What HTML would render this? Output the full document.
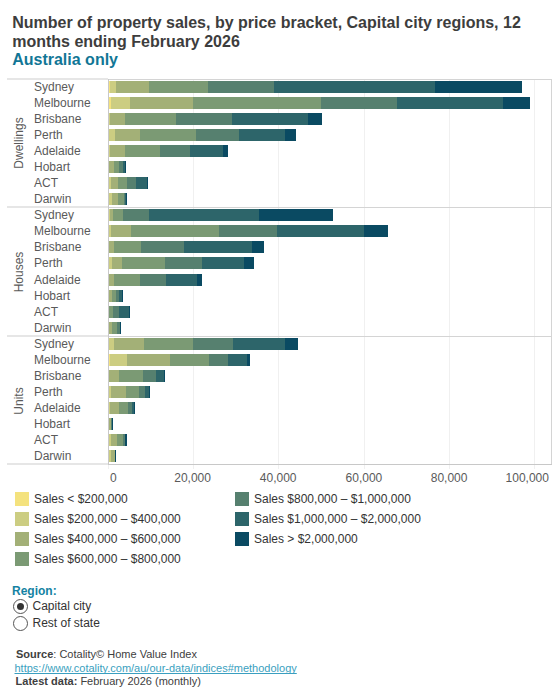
<!DOCTYPE html>
<html><head><meta charset="utf-8"><style>
html,body{margin:0;padding:0;background:#fff;}
body{width:560px;height:700px;position:relative;overflow:hidden;font-family:"Liberation Sans",sans-serif;}
.a{position:absolute;white-space:nowrap;}
.t{font-size:16px;line-height:18px;font-weight:bold;color:#3d3d3d;}
.lbl{font-size:12px;line-height:14px;color:#5a5a5a;}
.b{position:absolute;height:12px;}
.ln{position:absolute;}
</style></head><body>

<div class="a t" style="left:12.2px;top:14.2px">Number of property sales, by price bracket, Capital city regions, 12</div>
<div class="a t" style="left:12.2px;top:32.6px">months ending February 2026</div>
<div class="a t" style="left:12.2px;top:51.4px;color:#117696">Australia only</div>
<div class="ln" style="left:7px;top:78px;width:101px;height:2px;background:#e6e6e6"></div>
<div class="ln" style="left:7px;top:206px;width:101px;height:2px;background:#e6e6e6"></div>
<div class="ln" style="left:7px;top:335px;width:101px;height:2px;background:#e6e6e6"></div>
<div class="ln" style="left:7px;top:463px;width:101px;height:2px;background:#e6e6e6"></div>
<div class="ln" style="left:193px;top:80px;width:1px;height:389px;background:#f0f0f0"></div>
<div class="ln" style="left:278px;top:80px;width:1px;height:389px;background:#f0f0f0"></div>
<div class="ln" style="left:364px;top:80px;width:1px;height:389px;background:#f0f0f0"></div>
<div class="ln" style="left:449px;top:80px;width:1px;height:389px;background:#f0f0f0"></div>
<div class="ln" style="left:534px;top:80px;width:1px;height:389px;background:#f0f0f0"></div>
<div class="ln" style="left:108px;top:465px;width:1px;height:4px;background:#f0f0f0"></div>
<div class="ln" style="left:108px;top:79px;width:444px;height:1px;background:#d4d4d4"></div>
<div class="ln" style="left:108px;top:207px;width:444px;height:1px;background:#d4d4d4"></div>
<div class="ln" style="left:108px;top:336px;width:444px;height:1px;background:#d4d4d4"></div>
<div class="ln" style="left:551px;top:79px;width:1px;height:386px;background:#d4d4d4"></div>
<div class="ln" style="left:108px;top:79px;width:1px;height:386px;background:#c8c8c8"></div>
<div class="ln" style="left:108px;top:464px;width:444px;height:1px;background:#c8c8c8"></div>
<div class="a lbl" style="left:18.6px;top:142.5px;transform:translate(-50%,-50%) rotate(-90deg)">Dwellings</div>
<div class="a lbl" style="left:18.6px;top:271.5px;transform:translate(-50%,-50%) rotate(-90deg)">Houses</div>
<div class="a lbl" style="left:18.6px;top:400.5px;transform:translate(-50%,-50%) rotate(-90deg)">Units</div>
<div class="a lbl" style="left:34px;top:79.59px">Sydney</div>
<div class="b" style="left:109px;top:81px;width:1px;background:#f4e27e"></div>
<div class="b" style="left:110px;top:81px;width:6px;background:#cccd82"></div>
<div class="b" style="left:116px;top:81px;width:33px;background:#a3b077"></div>
<div class="b" style="left:149px;top:81px;width:59px;background:#7b9a74"></div>
<div class="b" style="left:208px;top:81px;width:66px;background:#56806f"></div>
<div class="b" style="left:274px;top:81px;width:161px;background:#2d656a"></div>
<div class="b" style="left:435px;top:81px;width:87px;background:#0a4a62"></div>
<div class="a lbl" style="left:34px;top:95.59px">Melbourne</div>
<div class="b" style="left:109px;top:97px;width:2px;background:#f4e27e"></div>
<div class="b" style="left:111px;top:97px;width:19px;background:#cccd82"></div>
<div class="b" style="left:130px;top:97px;width:63px;background:#a3b077"></div>
<div class="b" style="left:193px;top:97px;width:128px;background:#7b9a74"></div>
<div class="b" style="left:321px;top:97px;width:76px;background:#56806f"></div>
<div class="b" style="left:397px;top:97px;width:106px;background:#2d656a"></div>
<div class="b" style="left:503px;top:97px;width:27px;background:#0a4a62"></div>
<div class="a lbl" style="left:34px;top:111.59px">Brisbane</div>
<div class="b" style="left:109px;top:113px;width:1px;background:#cccd82"></div>
<div class="b" style="left:110px;top:113px;width:15px;background:#a3b077"></div>
<div class="b" style="left:125px;top:113px;width:51px;background:#7b9a74"></div>
<div class="b" style="left:176px;top:113px;width:56px;background:#56806f"></div>
<div class="b" style="left:232px;top:113px;width:76px;background:#2d656a"></div>
<div class="b" style="left:308px;top:113px;width:14px;background:#0a4a62"></div>
<div class="a lbl" style="left:34px;top:127.59px">Perth</div>
<div class="b" style="left:109px;top:129px;width:6px;background:#cccd82"></div>
<div class="b" style="left:115px;top:129px;width:25px;background:#a3b077"></div>
<div class="b" style="left:140px;top:129px;width:56px;background:#7b9a74"></div>
<div class="b" style="left:196px;top:129px;width:43px;background:#56806f"></div>
<div class="b" style="left:239px;top:129px;width:46px;background:#2d656a"></div>
<div class="b" style="left:285px;top:129px;width:11px;background:#0a4a62"></div>
<div class="a lbl" style="left:34px;top:143.59px">Adelaide</div>
<div class="b" style="left:109px;top:145px;width:1px;background:#cccd82"></div>
<div class="b" style="left:110px;top:145px;width:15px;background:#a3b077"></div>
<div class="b" style="left:125px;top:145px;width:35px;background:#7b9a74"></div>
<div class="b" style="left:160px;top:145px;width:30px;background:#56806f"></div>
<div class="b" style="left:190px;top:145px;width:33px;background:#2d656a"></div>
<div class="b" style="left:223px;top:145px;width:5px;background:#0a4a62"></div>
<div class="a lbl" style="left:34px;top:159.59px">Hobart</div>
<div class="b" style="left:109px;top:161px;width:5px;background:#a3b077"></div>
<div class="b" style="left:114px;top:161px;width:5px;background:#7b9a74"></div>
<div class="b" style="left:119px;top:161px;width:4px;background:#56806f"></div>
<div class="b" style="left:123px;top:161px;width:2px;background:#2d656a"></div>
<div class="b" style="left:125px;top:161px;width:1px;background:#0a4a62"></div>
<div class="a lbl" style="left:34px;top:175.59px">ACT</div>
<div class="b" style="left:109px;top:177px;width:2px;background:#cccd82"></div>
<div class="b" style="left:111px;top:177px;width:7px;background:#a3b077"></div>
<div class="b" style="left:118px;top:177px;width:9px;background:#7b9a74"></div>
<div class="b" style="left:127px;top:177px;width:9px;background:#56806f"></div>
<div class="b" style="left:136px;top:177px;width:11px;background:#2d656a"></div>
<div class="b" style="left:147px;top:177px;width:1px;background:#0a4a62"></div>
<div class="a lbl" style="left:34px;top:191.59px">Darwin</div>
<div class="b" style="left:109px;top:193px;width:3px;background:#cccd82"></div>
<div class="b" style="left:112px;top:193px;width:6px;background:#a3b077"></div>
<div class="b" style="left:118px;top:193px;width:6px;background:#7b9a74"></div>
<div class="b" style="left:124px;top:193px;width:1px;background:#56806f"></div>
<div class="b" style="left:125px;top:193px;width:1px;background:#2d656a"></div>
<div class="b" style="left:126px;top:193px;width:1px;background:#0a4a62"></div>
<div class="a lbl" style="left:34px;top:207.59px">Sydney</div>
<div class="b" style="left:109px;top:209px;width:1px;background:#cccd82"></div>
<div class="b" style="left:110px;top:209px;width:3px;background:#a3b077"></div>
<div class="b" style="left:113px;top:209px;width:10px;background:#7b9a74"></div>
<div class="b" style="left:123px;top:209px;width:26px;background:#56806f"></div>
<div class="b" style="left:149px;top:209px;width:110px;background:#2d656a"></div>
<div class="b" style="left:259px;top:209px;width:74px;background:#0a4a62"></div>
<div class="a lbl" style="left:34px;top:223.59px">Melbourne</div>
<div class="b" style="left:109px;top:225px;width:2px;background:#cccd82"></div>
<div class="b" style="left:111px;top:225px;width:20px;background:#a3b077"></div>
<div class="b" style="left:131px;top:225px;width:88px;background:#7b9a74"></div>
<div class="b" style="left:219px;top:225px;width:58px;background:#56806f"></div>
<div class="b" style="left:277px;top:225px;width:87px;background:#2d656a"></div>
<div class="b" style="left:364px;top:225px;width:24px;background:#0a4a62"></div>
<div class="a lbl" style="left:34px;top:239.59px">Brisbane</div>
<div class="b" style="left:109px;top:241px;width:5px;background:#a3b077"></div>
<div class="b" style="left:114px;top:241px;width:27px;background:#7b9a74"></div>
<div class="b" style="left:141px;top:241px;width:43px;background:#56806f"></div>
<div class="b" style="left:184px;top:241px;width:68px;background:#2d656a"></div>
<div class="b" style="left:252px;top:241px;width:12px;background:#0a4a62"></div>
<div class="a lbl" style="left:34px;top:255.59px">Perth</div>
<div class="b" style="left:109px;top:257px;width:3px;background:#cccd82"></div>
<div class="b" style="left:112px;top:257px;width:10px;background:#a3b077"></div>
<div class="b" style="left:122px;top:257px;width:43px;background:#7b9a74"></div>
<div class="b" style="left:165px;top:257px;width:37px;background:#56806f"></div>
<div class="b" style="left:202px;top:257px;width:42px;background:#2d656a"></div>
<div class="b" style="left:244px;top:257px;width:10px;background:#0a4a62"></div>
<div class="a lbl" style="left:34px;top:272.59px">Adelaide</div>
<div class="b" style="left:109px;top:274px;width:5px;background:#a3b077"></div>
<div class="b" style="left:114px;top:274px;width:26px;background:#7b9a74"></div>
<div class="b" style="left:140px;top:274px;width:26px;background:#56806f"></div>
<div class="b" style="left:166px;top:274px;width:31px;background:#2d656a"></div>
<div class="b" style="left:197px;top:274px;width:5px;background:#0a4a62"></div>
<div class="a lbl" style="left:34px;top:288.59px">Hobart</div>
<div class="b" style="left:109px;top:290px;width:3px;background:#a3b077"></div>
<div class="b" style="left:112px;top:290px;width:4px;background:#7b9a74"></div>
<div class="b" style="left:116px;top:290px;width:3px;background:#56806f"></div>
<div class="b" style="left:119px;top:290px;width:3px;background:#2d656a"></div>
<div class="b" style="left:122px;top:290px;width:1px;background:#0a4a62"></div>
<div class="a lbl" style="left:34px;top:304.59px">ACT</div>
<div class="b" style="left:109px;top:306px;width:4px;background:#7b9a74"></div>
<div class="b" style="left:113px;top:306px;width:6px;background:#56806f"></div>
<div class="b" style="left:119px;top:306px;width:10px;background:#2d656a"></div>
<div class="b" style="left:129px;top:306px;width:1px;background:#0a4a62"></div>
<div class="a lbl" style="left:34px;top:320.59px">Darwin</div>
<div class="b" style="left:109px;top:322px;width:3px;background:#a3b077"></div>
<div class="b" style="left:112px;top:322px;width:5px;background:#7b9a74"></div>
<div class="b" style="left:117px;top:322px;width:3px;background:#56806f"></div>
<div class="b" style="left:120px;top:322px;width:1px;background:#0a4a62"></div>
<div class="a lbl" style="left:34px;top:336.59px">Sydney</div>
<div class="b" style="left:109px;top:338px;width:5px;background:#cccd82"></div>
<div class="b" style="left:114px;top:338px;width:30px;background:#a3b077"></div>
<div class="b" style="left:144px;top:338px;width:49px;background:#7b9a74"></div>
<div class="b" style="left:193px;top:338px;width:40px;background:#56806f"></div>
<div class="b" style="left:233px;top:338px;width:52px;background:#2d656a"></div>
<div class="b" style="left:285px;top:338px;width:13px;background:#0a4a62"></div>
<div class="a lbl" style="left:34px;top:352.59px">Melbourne</div>
<div class="b" style="left:109px;top:354px;width:1px;background:#f4e27e"></div>
<div class="b" style="left:110px;top:354px;width:17px;background:#cccd82"></div>
<div class="b" style="left:127px;top:354px;width:43px;background:#a3b077"></div>
<div class="b" style="left:170px;top:354px;width:39px;background:#7b9a74"></div>
<div class="b" style="left:209px;top:354px;width:19px;background:#56806f"></div>
<div class="b" style="left:228px;top:354px;width:19px;background:#2d656a"></div>
<div class="b" style="left:247px;top:354px;width:3px;background:#0a4a62"></div>
<div class="a lbl" style="left:34px;top:368.59px">Brisbane</div>
<div class="b" style="left:109px;top:370px;width:10px;background:#a3b077"></div>
<div class="b" style="left:119px;top:370px;width:24px;background:#7b9a74"></div>
<div class="b" style="left:143px;top:370px;width:13px;background:#56806f"></div>
<div class="b" style="left:156px;top:370px;width:8px;background:#2d656a"></div>
<div class="b" style="left:164px;top:370px;width:1px;background:#0a4a62"></div>
<div class="a lbl" style="left:34px;top:384.59px">Perth</div>
<div class="b" style="left:109px;top:386px;width:2px;background:#cccd82"></div>
<div class="b" style="left:111px;top:386px;width:15px;background:#a3b077"></div>
<div class="b" style="left:126px;top:386px;width:13px;background:#7b9a74"></div>
<div class="b" style="left:139px;top:386px;width:6px;background:#56806f"></div>
<div class="b" style="left:145px;top:386px;width:4px;background:#2d656a"></div>
<div class="b" style="left:149px;top:386px;width:1px;background:#0a4a62"></div>
<div class="a lbl" style="left:34px;top:400.59px">Adelaide</div>
<div class="b" style="left:109px;top:402px;width:1px;background:#cccd82"></div>
<div class="b" style="left:110px;top:402px;width:9px;background:#a3b077"></div>
<div class="b" style="left:119px;top:402px;width:9px;background:#7b9a74"></div>
<div class="b" style="left:128px;top:402px;width:4px;background:#56806f"></div>
<div class="b" style="left:132px;top:402px;width:2px;background:#2d656a"></div>
<div class="b" style="left:134px;top:402px;width:1px;background:#0a4a62"></div>
<div class="a lbl" style="left:34px;top:416.59px">Hobart</div>
<div class="b" style="left:109px;top:418px;width:2px;background:#a3b077"></div>
<div class="b" style="left:111px;top:418px;width:1px;background:#56806f"></div>
<div class="b" style="left:112px;top:418px;width:1px;background:#0a4a62"></div>
<div class="a lbl" style="left:34px;top:432.59px">ACT</div>
<div class="b" style="left:109px;top:434px;width:2px;background:#cccd82"></div>
<div class="b" style="left:111px;top:434px;width:6px;background:#a3b077"></div>
<div class="b" style="left:117px;top:434px;width:6px;background:#7b9a74"></div>
<div class="b" style="left:123px;top:434px;width:2px;background:#56806f"></div>
<div class="b" style="left:125px;top:434px;width:2px;background:#0a4a62"></div>
<div class="a lbl" style="left:34px;top:448.59px">Darwin</div>
<div class="b" style="left:109px;top:450px;width:2px;background:#cccd82"></div>
<div class="b" style="left:111px;top:450px;width:4px;background:#a3b077"></div>
<div class="b" style="left:115px;top:450px;width:1px;background:#0a4a62"></div>
<div class="a lbl" style="left:192.6px;top:470.84px;transform:translateX(-50%)">20,000</div>
<div class="a lbl" style="left:278.2px;top:470.84px;transform:translateX(-50%)">40,000</div>
<div class="a lbl" style="left:363.9px;top:470.84px;transform:translateX(-50%)">60,000</div>
<div class="a lbl" style="left:449.1px;top:470.84px;transform:translateX(-50%)">80,000</div>
<div class="a lbl" style="left:110px;top:470.84px">0</div>
<div class="a lbl" style="left:505.6px;top:470.84px">100,000</div>
<div class="ln" style="left:15px;top:492px;width:14px;height:14px;background:#f4e27e"></div>
<div class="a lbl" style="left:34px;top:492.20px;color:#333">Sales &lt; $200,000</div>
<div class="ln" style="left:15px;top:512px;width:14px;height:14px;background:#cccd82"></div>
<div class="a lbl" style="left:34px;top:512.20px;color:#333">Sales $200,000 – $400,000</div>
<div class="ln" style="left:15px;top:532px;width:14px;height:14px;background:#a3b077"></div>
<div class="a lbl" style="left:34px;top:532.20px;color:#333">Sales $400,000 – $600,000</div>
<div class="ln" style="left:15px;top:552px;width:14px;height:14px;background:#7b9a74"></div>
<div class="a lbl" style="left:34px;top:552.20px;color:#333">Sales $600,000 – $800,000</div>
<div class="ln" style="left:235px;top:492px;width:14px;height:14px;background:#56806f"></div>
<div class="a lbl" style="left:254px;top:492.20px;color:#333">Sales $800,000 – $1,000,000</div>
<div class="ln" style="left:235px;top:512px;width:14px;height:14px;background:#2d656a"></div>
<div class="a lbl" style="left:254px;top:512.20px;color:#333">Sales $1,000,000 – $2,000,000</div>
<div class="ln" style="left:235px;top:532px;width:14px;height:14px;background:#0a4a62"></div>
<div class="a lbl" style="left:254px;top:532.20px;color:#333">Sales &gt; $2,000,000</div>
<div class="a" style="left:12px;top:583.64px;font-size:12px;line-height:14px;font-weight:bold;color:#1582a2">Region:</div>
<div class="ln" style="left:13px;top:599px;width:13px;height:13px;border:1px solid #555;border-radius:50%"></div>
<div class="ln" style="left:17px;top:603px;width:7px;height:7px;background:#333;border-radius:50%"></div>
<div class="ln" style="left:13px;top:616px;width:13px;height:13px;border:1px solid #555;border-radius:50%"></div>
<div class="a lbl" style="left:32.5px;top:599.2px;color:#333">Capital city</div>
<div class="a lbl" style="left:32.5px;top:616.2px;color:#333">Rest of state</div>
<div class="a" style="left:16px;top:647.89px;font-size:11px;line-height:13px;color:#404040"><b>Source</b>: Cotality© Home Value Index</div>
<div class="a" style="left:14.5px;top:662.39px;font-size:11px;line-height:13px;color:#3a9fc0;text-decoration:underline;text-decoration-skip-ink:none">https://www.cotality.com/au/our-data/indices#methodology</div>
<div class="a" style="left:15.6px;top:675.19px;font-size:11px;line-height:13px;color:#404040"><b>Latest data:</b> February 2026 (monthly)</div>
</body></html>
